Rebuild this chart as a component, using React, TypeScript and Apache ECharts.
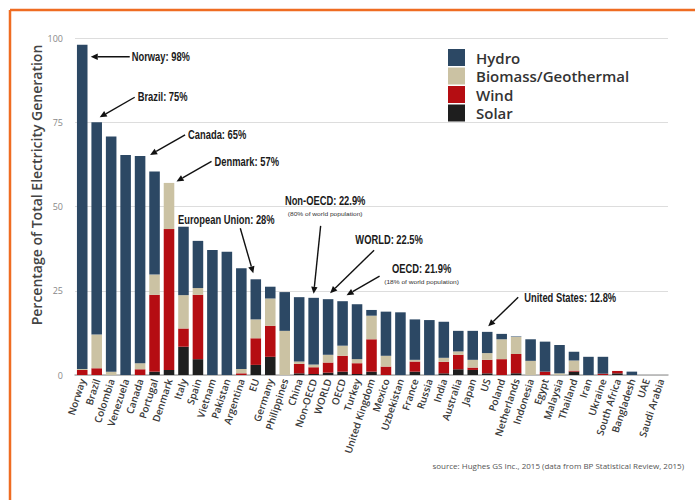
import React, { useEffect, useRef } from "react";
import * as echarts from "echarts";

const categories = [
  "Norway", "Brazil", "Colombia", "Venezuela", "Canada", "Portugal", "Denmark", "Italy", "Spain",
  "Vietnam", "Pakistan", "Argentina", "EU", "Germany", "Philippines", "China", "Non-OECD", "WORLD",
  "OECD", "Turkey", "United Kingdom", "Mexico", "Uzbekistan", "France", "Russia", "India", "Australia",
  "Japan", "US", "Poland", "Netherlands", "Indonesia", "Egypt", "Malaysia", "Thailand", "Iran",
  "Ukraine", "South Africa", "Bangladesh", "UAE", "Saudi Arabia",
];

const solar = [
  0, 0, 0, 0, 0, 1, 1.5, 8.4, 4.7, 0, 0, 0, 3, 5.4, 0, 0.5, 0.3, 0.7, 1, 0.3, 1,
  0, 0, 1, 0, 0.5, 1.7, 1.5, 0.5, 0, 0.5, 0, 0, 0, 1, 0, 0, 0.5, 0, 0, 0,
];
const wind = [
  1.5, 2, 0, 0, 1.7, 22.8, 41.8, 5.4, 19.1, 0, 0, 0.5, 7.9, 9.2, 0, 2.8, 2, 3, 4.7, 3.2, 9.6,
  2.5, 0, 3, 0, 3.4, 4.3, 0.7, 4, 4.7, 5.7, 0, 1, 0, 0.3, 0, 0.4, 0.7, 0, 0, 0,
];
const biomass = [
  0.3, 10, 1, 0, 1.8, 6, 13.7, 9.9, 2, 0, 0, 1.3, 5.6, 8.1, 13.1, 0.7, 0.8, 2.3, 3, 1.2, 7,
  3.2, 0, 0.5, 0, 1.2, 1, 2.3, 2, 5.9, 5.1, 4.2, 0, 0.5, 3, 0, 0, 0, 0, 0, 0,
];
const hydro = [
  96.2, 63, 69.8, 65.3, 61.5, 30.6, 0, 20.3, 14, 37.1, 36.6, 29.9, 11.9, 3.5, 11.5, 19.1, 19.8, 16.5, 13.2, 16.3, 1.7,
  13.1, 18.6, 12, 16.3, 10.7, 6.1, 8.6, 6.3, 1.6, 0.1, 6.4, 8.9, 8.4, 2.6, 5.4, 5, 0, 1, 0, 0,
];
const yTicks = [0, 25, 50, 75, 100];

const annotations = [
  { cat: "Norway", label: "Norway: 98%", hx: 8.5, hy: 12, tx: 39, ty: 0, lx: 2, ly: 0, align: "left" },
  { cat: "Brazil", label: "Brazil: 75%", hx: 3, hy: -5, tx: 35, ty: -20, lx: 3, ly: -1, align: "left" },
  { cat: "Canada", label: "Canada: 65%", hx: 10, hy: -1, tx: 35, ty: -20, lx: 3, ly: 0, align: "left" },
  { cat: "Denmark", label: "Denmark: 57%", hx: 7.5, hy: -1.5, tx: 35, ty: -20, lx: 3, ly: 0, align: "left" },
  { cat: "EU", label: "European Union: 28%", hx: -2.5, hy: -6, tx: -13, ty: -45, lx: -14, ly: -9, align: "center" },
  { cat: "Non-OECD", label: "Non-OECD: 22.9%", sub: "(80% of world population)", hx: 0, hy: -4, tx: 7, ty: -68, lx: 4.5, ly: -25, align: "center" },
  { cat: "WORLD", label: "WORLD: 22.5%", hx: 2, hy: -6, tx: 44, ty: -43, lx: 15, ly: -11, align: "center" },
  { cat: "OECD", label: "OECD: 21.9%", sub: "(18% of world population)", hx: 4, hy: -6, tx: 33, ty: -19, lx: 42, ly: -8, align: "center" },
  { cat: "US", label: "United States: 12.8%", hx: 1, hy: -5.5, tx: 30, ty: -29, lx: 6, ly: 0, align: "left" },
];

const COLORS = { hydro: "#2c4864", biomass: "#cbc2a3", wind: "#b50d12", solar: "#1e1e1e" };
const ANN_FONT = '"Liberation Sans", "DejaVu Sans", sans-serif';

export default function App() {
  const ref = useRef<HTMLDivElement>(null);
  useEffect(() => {
    if (!ref.current) return;
    const chart = echarts.init(ref.current, null, { renderer: "svg" });
    const mk = (name: string, data: number[], color: string) => ({
      name,
      type: "bar",
      stack: "total",
      data,
      barCategoryGap: "27%",
      itemStyle: { color },
      emphasis: { disabled: true },
    });
    chart.setOption({
      animation: false,
      backgroundColor: "#ffffff",
      grid: { left: 75, right: 27, top: 38, bottom: 125 },
      legend: {
        data: ["Hydro", "Biomass/Geothermal", "Wind", "Solar"],
        orient: "vertical",
        left: 443,
        top: 44,
        itemWidth: 17,
        itemHeight: 17,
        itemGap: 1.5,
        icon: "rect",
        textStyle: { fontSize: 15, fontWeight: 600, color: "#333", fontFamily: "Open Sans", padding: [0, 0, 0, 6] },
      },
      xAxis: {
        type: "category",
        data: categories,
        axisLine: { lineStyle: { color: "#b0b0b0", width: 1.5 } },
        axisTick: { show: false },
        axisLabel: {
          interval: 0,
          rotate: 72,
          fontSize: 10,
          fontWeight: 600,
          color: "#3a3a3a",
          fontFamily: "Open Sans",
          margin: 4,
        },
      },
      yAxis: {
        type: "value",
        min: yTicks[0],
        max: yTicks[yTicks.length - 1],
        interval: 25,
        axisLine: { show: false },
        axisTick: { show: false },
        splitLine: { lineStyle: { color: "#dddddd", width: 1 } },
        axisLabel: { fontSize: 9, color: "#888", fontFamily: "Open Sans", margin: 12 },
      },
      series: [
        mk("Solar", solar, COLORS.solar),
        mk("Wind", wind, COLORS.wind),
        mk("Biomass/Geothermal", biomass, COLORS.biomass),
        mk("Hydro", hydro, COLORS.hydro),
      ],
    });

    const graphics: any[] = [
      { type: "line", shape: { x1: 10, y1: 10, x2: 695, y2: 10 }, style: { stroke: "#ef6c22", lineWidth: 2.5 } },
      { type: "line", shape: { x1: 10, y1: 10, x2: 10, y2: 500 }, style: { stroke: "#ef6c22", lineWidth: 2.5 } },
      {
        type: "text",
        x: 36,
        y: 185,
        rotation: Math.PI / 2,
        style: {
          text: "Percentage of Total Electricity Generation",
          fill: "#444",
          font: '600 14px "Open Sans"',
          align: "center",
          verticalAlign: "middle",
        },
      },
      {
        type: "text",
        x: 684,
        y: 465,
        style: {
          text: "source: Hughes GS Inc., 2015 (data from BP Statistical Review, 2015)",
          fill: "#555",
          font: '8px "Open Sans"',
          align: "right",
          verticalAlign: "middle",
        },
      },
    ];

    annotations.forEach((a) => {
      const i = categories.indexOf(a.cat);
      const total = solar[i] + wind[i] + biomass[i] + hydro[i];
      const p = chart.convertToPixel({ xAxisIndex: 0, yAxisIndex: 0 }, [i, total]) as number[];
      const hx = p[0] + a.hx;
      const hy = p[1] + a.hy;
      const tx = hx + a.tx;
      const ty = hy + a.ty;
      const len = Math.hypot(a.tx, a.ty);
      const ux = a.tx / len;
      const uy = a.ty / len;
      const al = 7;
      const aw = 3.2;
      const bx = hx + ux * al;
      const by = hy + uy * al;
      graphics.push({
        type: "line",
        shape: { x1: tx, y1: ty, x2: bx, y2: by },
        style: { stroke: "#111", lineWidth: 1.4 },
      });
      graphics.push({
        type: "polygon",
        shape: { points: [[hx, hy], [bx - uy * aw, by + ux * aw], [bx + uy * aw, by - ux * aw]] },
        style: { fill: "#111" },
      });
      graphics.push({
        type: "text",
        x: tx + a.lx,
        y: ty + a.ly,
        scaleX: 0.78,
        style: {
          text: a.label,
          fill: "#1a1a1a",
          font: `bold 12px ${ANN_FONT}`,
          align: a.align,
          verticalAlign: "middle",
        },
      });
      if (a.sub) {
        graphics.push({
          type: "text",
          x: tx + a.lx,
          y: ty + a.ly + 13,
          scaleX: 1.1,
          style: {
            text: a.sub,
            fill: "#333",
            font: `6px ${ANN_FONT}`,
            align: a.align,
            verticalAlign: "middle",
          },
        });
      }
    });

    chart.setOption({ graphic: graphics });
    return () => chart.dispose();
  }, []);
  return <div ref={ref} style={{ width: 695, height: 500, position: "absolute", left: 0, top: 0 }} />;
}
